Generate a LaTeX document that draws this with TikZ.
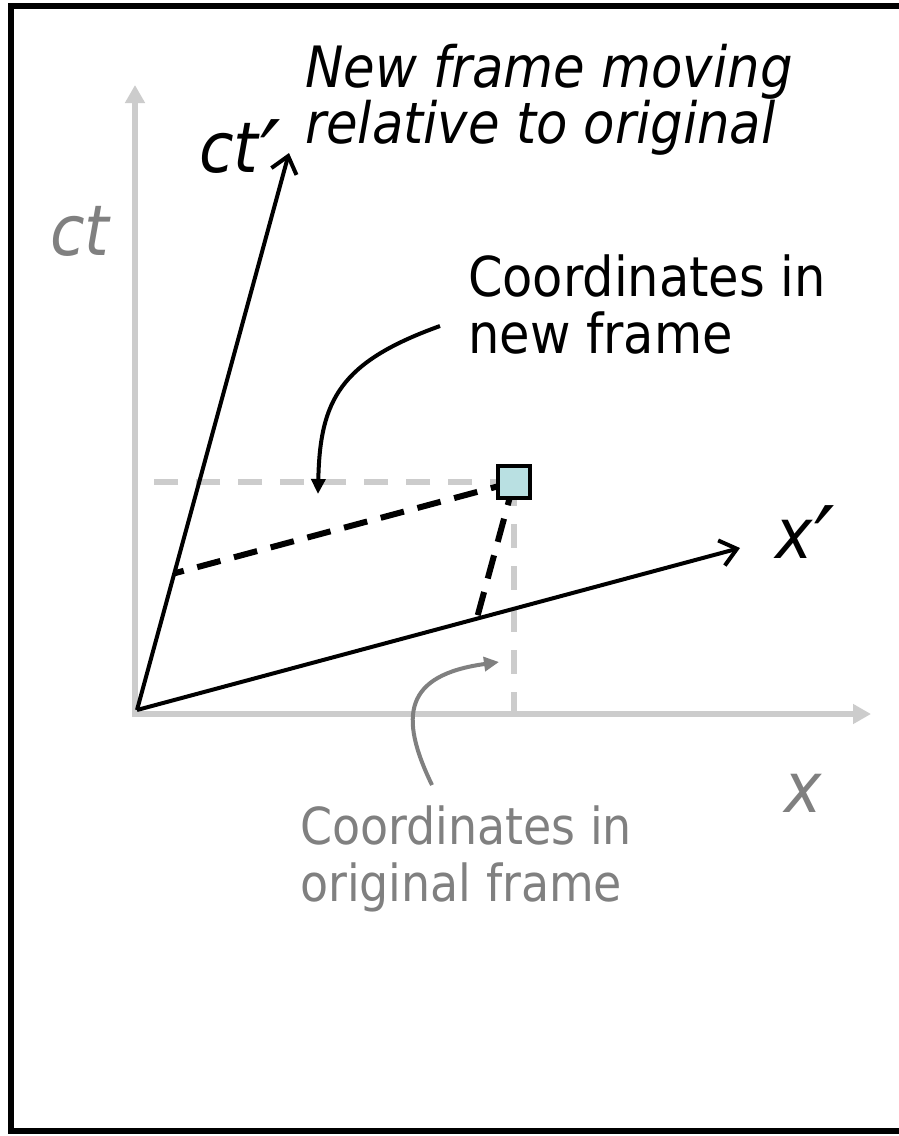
\documentclass[tikz,border=0pt]{standalone}
\usepackage{fontspec}
\setmainfont{DejaVu Sans Condensed}
\usetikzlibrary{arrows.meta}
\definecolor{axisgray}{HTML}{CCCCCC}
\definecolor{textgray}{HTML}{808080}
\definecolor{boxfill}{HTML}{B9E0E2}
\newcommand{\bigprime}{\kern2pt\raisebox{-20pt}{\fontsize{100}{100}\selectfont ′}}
\begin{document}
\begin{tikzpicture}[x=1pt,y=-1pt,
  gaxis/.style={draw=axisgray, line width=6pt, -{Triangle[length=18pt,width=19pt]}},
  frameaxis/.style={draw=black, line width=4pt, -{Straight Barb[length=16pt,width=26pt,line width=4pt]}},
  gdash/.style={draw=axisgray, line width=6pt, dash pattern=on 24pt off 18pt},
  bdash/.style={draw=black, line width=6pt, dash pattern=on 24pt off 14pt},
  biglabel/.style={font=\fontsize{70}{72}\selectfont\itshape, inner sep=0pt, anchor=base},
  caption/.style={font=\fontsize{55}{57}\selectfont, align=left, anchor=north west, inner sep=0pt},
  pointer/.style={line width=4pt, -{Triangle[length=15pt,width=14pt]}}
]
\useasboundingbox (0,0) rectangle (899,1136);
\clip (0,0) rectangle (899,1136);
\fill[white] (0,0) rectangle (899,1136);
\draw[line width=6pt] (11,6) rectangle (950,1131);

% coordinates
\coordinate (O) at (137,710);
\coordinate (Og) at (135,714);
\coordinate (ctBase) at (135,717);
\coordinate (xBase) at (132,714);
\coordinate (ctTip) at (135,85);
\coordinate (xTip) at (871,714);
\coordinate (ctpTip) at (289,153);
\coordinate (xpTip) at (740,548);
\coordinate (P) at (514,482);
\path (P) ++(-603,162) coordinate (Pa);
\path (P) ++(-152,558) coordinate (Pb);
\coordinate (Pct) at (intersection of P--Pa and O--ctpTip);
\coordinate (Px) at (intersection of P--Pb and O--xpTip);

% gray axes
\draw[gaxis] (ctBase) -- (ctTip);
\draw[gaxis] (xBase) -- (xTip);
\draw[gdash] (P) -- (P -| Og);
\draw[gdash] (P) -- (P |- Og);

% moving frame
\draw[bdash] (P) -- (Pct);
\draw[bdash] (P) -- (Px);
\draw[frameaxis] (O) -- (ctpTip);
\draw[frameaxis] (O) -- (xpTip);

\node[draw, line width=3.5pt, fill=boxfill, minimum size=32pt, inner sep=0pt] (pt) at (P) {};

% labels
\node[biglabel, text=textgray] (ct) at (80,255) {ct};
\node[biglabel] (ctp) at (240,172) {ct\bigprime};
\node[biglabel] (xp) at (805,558) {x\bigprime};
\node[biglabel, text=textgray] (xl) at (803,812) {x};

\node[caption, font=\fontsize{57}{52}\selectfont\itshape] (nf) at (305,44) {New frame moving\\relative to original};
\node[caption] (cn) at (468,255) {Coordinates in\\new frame};
\node[caption, font=\fontsize{51}{57}\selectfont, text=textgray] (co) at (300,806) {Coordinates in\\original frame};

% pointers
\coordinate (cnStart) at (440,326);
\coordinate (cnEnd) at (318,494);
\draw[pointer] (cnStart) .. controls (340,362) and (320,400) .. (cnEnd);
\coordinate (coStart) at (432,785);
\coordinate (coEnd) at (499,662);
\draw[pointer, textgray] (coStart) .. controls (398,715) and (405,675) .. (coEnd);
\end{tikzpicture}
\end{document}
